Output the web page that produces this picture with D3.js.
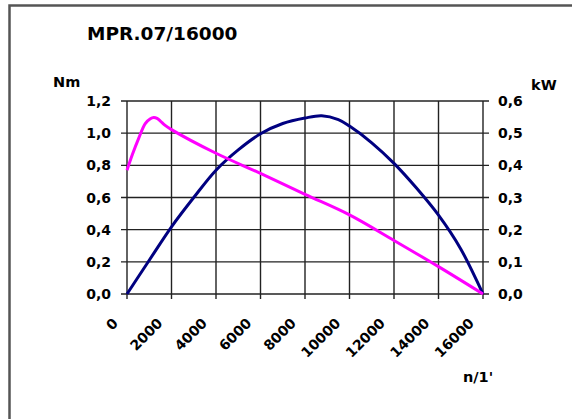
<!DOCTYPE html>
<html>
<head>
    <meta charset="UTF-8">
    <title>MPR.07/16000</title>
    <script src="https://d3js.org/d3.v7.min.js"></script>
    <style type="text/css">
        body { margin: 0; background: #fff; }
        text { font-family: "DejaVu Sans", Verdana, sans-serif; font-weight: bold; fill: #000; }
    </style>
</head>
<body>
    <svg id="chart"></svg>

    <script>
        const width = 572;
        const height = 419;
        const plot = { left: 127, right: 483, top: 101, bottom: 294 };

        // speed (1/min) and torque (Nm)
        const torqueRpm = [0, 250, 520, 820, 1050, 1200, 1350, 1500, 1700, 2000, 4000, 6000, 8000, 10000, 12000, 14000, 16000];
        const torqueNm  = [0.77, 0.87, 0.966, 1.06, 1.09, 1.097, 1.092, 1.075, 1.05, 1.022, 0.875, 0.75, 0.62, 0.492, 0.333, 0.17, 0];

        // speed (1/min) and power (kW)
        const powerRpm = [0, 1000, 2000, 3000, 4000, 5000, 6000, 7000, 8000, 8750, 9500, 10000, 11000, 12000, 13000, 14000, 15000, 16000];
        const powerKw  = [0, 0.105, 0.209, 0.30, 0.385, 0.448, 0.498, 0.53, 0.547, 0.554, 0.542, 0.522, 0.47, 0.406, 0.33, 0.245, 0.14, 0];

        const xTicks = [0, 2000, 4000, 6000, 8000, 10000, 12000, 14000, 16000];
        const nmTicks = [0, 0.2, 0.4, 0.6, 0.8, 1.0, 1.2];
        const kwTicks = [0, 0.1, 0.2, 0.3, 0.4, 0.5, 0.6];

        const svg = d3.select("#chart")
            .attr("width", width)
            .attr("height", height);

        // outer frame
        svg.append("rect")
            .attr("x", 9.5).attr("y", 5.5)
            .attr("width", 580).attr("height", 440)
            .attr("fill", "none")
            .attr("stroke", "#555")
            .attr("stroke-width", 2.5);

        const x = d3.scaleLinear().domain([0, 16000]).range([plot.left, plot.right]);
        const yNm = d3.scaleLinear().domain([0, 1.2]).range([plot.bottom, plot.top]);
        const yKw = d3.scaleLinear().domain([0, 0.6]).range([plot.bottom, plot.top]);

        const fmt = d => d3.format(".1f")(d).replace(".", ",");

        // grid
        const grid = svg.append("g").attr("stroke", "#222").attr("stroke-width", 1.4);
        grid.selectAll(".vg").data(xTicks).enter().append("line")
            .attr("x1", d => x(d)).attr("x2", d => x(d))
            .attr("y1", plot.top).attr("y2", plot.bottom + 5);
        grid.selectAll(".hg").data(nmTicks).enter().append("line")
            .attr("x1", plot.left - 6).attr("x2", plot.right + 6)
            .attr("y1", d => yNm(d)).attr("y2", d => yNm(d));

        // left axis labels
        svg.append("g").selectAll("text").data(nmTicks).enter().append("text")
            .attr("x", plot.left - 16)
            .attr("y", d => yNm(d))
            .attr("dy", "0.36em")
            .attr("text-anchor", "end")
            .style("font-size", "14px")
            .text(fmt);

        // right axis labels
        svg.append("g").selectAll("text").data(kwTicks).enter().append("text")
            .attr("x", plot.right + 15)
            .attr("y", d => yKw(d))
            .attr("dy", "0.36em")
            .style("font-size", "14px")
            .text(fmt);

        // x labels, rotated
        svg.append("g").selectAll("text").data(xTicks).enter().append("text")
            .attr("text-anchor", "end")
            .attr("transform", d => `translate(${x(d) - 8},${plot.bottom + 30}) rotate(-45)`)
            .style("font-size", "14px")
            .text(d => d);

        // curves
        const torqueLine = d3.line()
            .x((d, i) => x(torqueRpm[i]))
            .y(d => yNm(d))
            .curve(d3.curveCatmullRom.alpha(0.5));
        const powerLine = d3.line()
            .x((d, i) => x(powerRpm[i]))
            .y(d => yKw(d))
            .curve(d3.curveCatmullRom.alpha(0.5));

        svg.append("path")
            .attr("d", powerLine(powerKw))
            .attr("fill", "none")
            .attr("stroke", "#000080")
            .attr("stroke-width", 3);
        svg.append("path")
            .attr("d", torqueLine(torqueNm))
            .attr("fill", "none")
            .attr("stroke", "#ff00ff")
            .attr("stroke-width", 3);

        // titles
        svg.append("text").attr("x", 87).attr("y", 40)
            .style("font-size", "18.5px").text("MPR.07/16000");
        svg.append("text").attr("x", 53).attr("y", 87)
            .style("font-size", "14.5px").text("Nm");
        svg.append("text").attr("x", 531).attr("y", 90)
            .style("font-size", "14.5px").text("kW");
        svg.append("text").attr("x", 463).attr("y", 382)
            .style("font-size", "14.5px").text("n/1'");
    </script>
</body>
</html>
